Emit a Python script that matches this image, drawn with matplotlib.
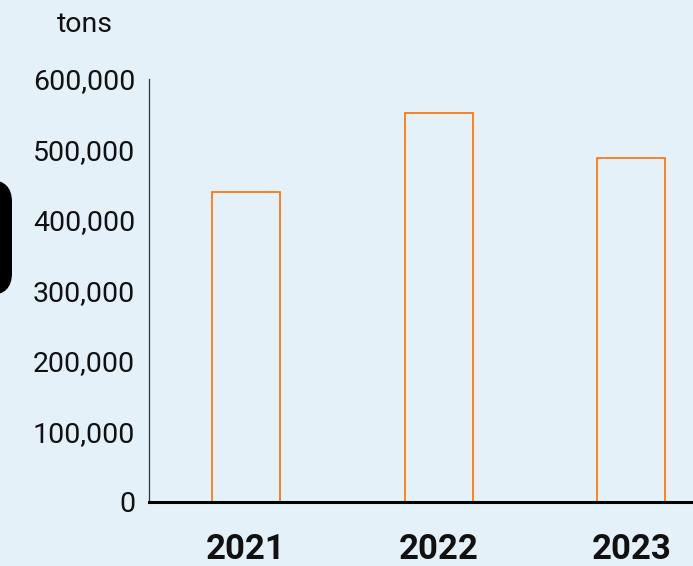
import matplotlib.pyplot as plt
from matplotlib.patches import FancyBboxPatch
from matplotlib.ticker import FuncFormatter

plt.rcParams['font.family'] = ['Roboto', 'DejaVu Sans']

years = ['2021', '2022', '2023']
tons = [440000, 552000, 488000]
yticks = [0, 100000, 200000, 300000, 400000, 500000, 600000]

bg = '#e4f1f9'
orange = '#ff7000'

fig = plt.figure(figsize=(6.93, 5.66), dpi=100, facecolor=bg)
ax = fig.add_axes([0.215, 0.1131, 0.785, 0.7473])
ax.set_facecolor(bg)

x = range(len(years))
ax.bar(x, tons, width=0.353, facecolor='none', edgecolor=orange, linewidth=1.2)

ax.set_xlim(-0.504, 2.32)
ax.set_ylim(0, 600000)
ax.set_xticks(list(x))
ax.set_xticklabels(years, fontsize=25, fontweight='bold')
ax.set_yticks(yticks)
ax.yaxis.set_major_formatter(FuncFormatter(lambda v, p: f'{int(v):,}'))
ax.tick_params(axis='y', length=0, pad=10, labelsize=20.5, labelcolor='#111111')
ax.tick_params(axis='x', length=0, pad=22.5, labelcolor='#111111')

for s in ['top', 'right']:
    ax.spines[s].set_visible(False)
ax.spines['left'].set_color('#333333')
ax.spines['left'].set_linewidth(0.9)
ax.spines['bottom'].set_color('black')
ax.spines['bottom'].set_linewidth(2.2)

fig.text(0.1227, 0.956, 'tons', fontsize=20.5, ha='center', va='center', color='#111111')

# dark rounded block cut off at the left edge
blob = FancyBboxPatch((-40, 566 - 295), 52, 115, boxstyle='round,pad=0,rounding_size=22',
                      transform=None, facecolor='black', edgecolor='none')
fig.patches.append(blob)

fig.savefig('out.png', dpi=100, facecolor=bg)
